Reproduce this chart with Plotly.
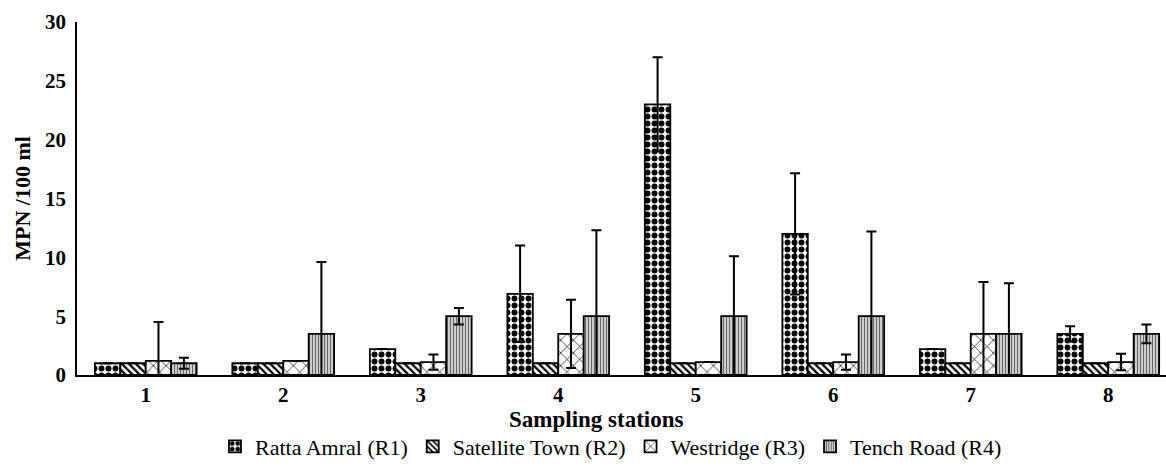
import plotly.graph_objects as go

stations = ["1", "2", "3", "4", "5", "6", "7", "8"]
series_names = ["Ratta Amral (R1)", "Satellite Town (R2)", "Westridge (R3)", "Tench Road (R4)"]

r1 = [1.0, 1.0, 2.2, 6.9, 23.0, 12.0, 2.2, 3.5]
r2 = [1.0, 1.0, 1.0, 1.0, 1.0, 1.0, 1.0, 1.0]
r3 = [1.2, 1.2, 1.1, 3.5, 1.1, 1.1, 3.5, 1.1]
r4 = [1.0, 3.5, 5.0, 5.0, 5.0, 5.0, 3.5, 3.5]

r1_err = [0, 0, 0, 4.1, 4.0, 5.15, 0, 0.65]
r2_err = [0, 0, 0, 0, 0, 0, 0, 0]
r3_err = [3.3, 0, 0.65, 2.9, 0, 0.65, 4.4, 0.7]
r4_err = [0.47, 6.1, 0.7, 7.3, 5.1, 7.2, 4.3, 0.8]

yticks = [0, 5, 10, 15, 20, 25, 30]

patterns = [
    dict(shape=".", fgcolor="black", bgcolor="white", size=7, solidity=0.55, fillmode="replace"),
    dict(shape="\\", fgcolor="black", bgcolor="white", size=5, solidity=0.45, fillmode="replace"),
    dict(shape="x", fgcolor="black", bgcolor="white", size=9, solidity=0.15, fillmode="replace"),
    dict(shape="|", fgcolor="#666666", bgcolor="#d8d8d8", size=3, solidity=0.4, fillmode="replace"),
]

values = [r1, r2, r3, r4]
errs = [r1_err, r2_err, r3_err, r4_err]

x_pos = list(range(1, len(stations) + 1))

fig = go.Figure()
for name, vals, err, pat in zip(series_names, values, errs, patterns):
    fig.add_trace(go.Bar(
        name=name,
        x=x_pos,
        y=vals,
        marker=dict(color="white", line=dict(color="black", width=1.8), pattern=pat),
        error_y=dict(type="data", array=err, visible=True, color="black", thickness=2, width=5),
    ))

font_family = "Liberation Serif"

fig.add_annotation(
    text="<b>Sampling stations</b>", xref="paper", yref="paper",
    x=0.477, y=-0.125, xanchor="center", yanchor="middle", showarrow=False,
    font=dict(family=font_family, size=23, color="black"),
)

fig.update_layout(
    width=1166, height=470,
    barmode="group",
    bargap=0.26,
    bargroupgap=0,
    plot_bgcolor="white",
    paper_bgcolor="white",
    margin=dict(l=77, r=0, t=22, b=95),
    font=dict(family=font_family, color="black"),
    legend=dict(
        orientation="h", xref="container", x=0.524, xanchor="center",
        yref="container", y=0.05, yanchor="middle",
        font=dict(family=font_family, size=22, color="black"),
        traceorder="normal", itemwidth=30, tracegroupgap=0,
    ),
    xaxis=dict(
        range=[0.5, 8.42],
        tickmode="array", tickvals=x_pos, ticktext=stations,
        showline=True, linecolor="black", linewidth=2,
        showgrid=False, zeroline=False, ticks="",
        automargin=False,
        tickfont=dict(family=font_family, size=21, color="black", weight="bold"),
    ),
    yaxis=dict(
        range=[0, 30],
        tickmode="array", tickvals=yticks,
        showline=True, linecolor="black", linewidth=1.5,
        showgrid=False, zeroline=False, ticks="",
        automargin=False, ticklabelstandoff=5,
        tickfont=dict(family=font_family, size=21, color="black", weight="bold"),
        title=dict(text="<b>MPN /100 ml</b>", font=dict(family=font_family, size=22, color="black"), standoff=8),
    ),
)

fig.write_html("out.html")
